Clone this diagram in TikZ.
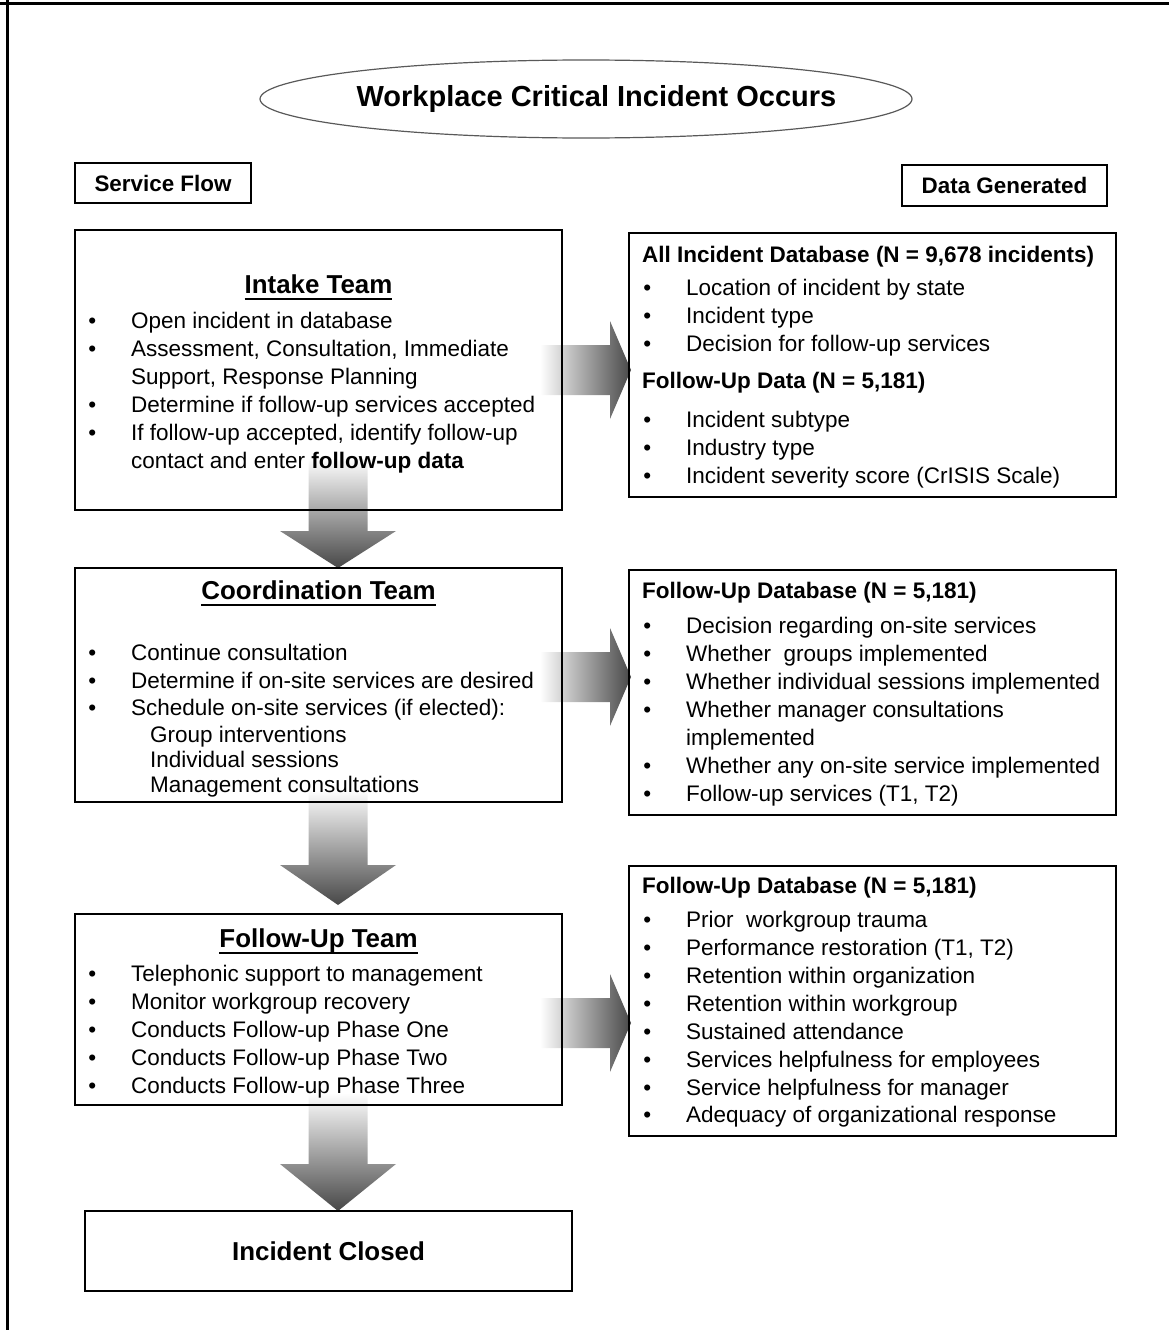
\documentclass[tikz,border=0pt]{standalone}
\usepackage{fontspec}
\setmainfont{Liberation Sans}
\usetikzlibrary{calc,shapes.geometric,backgrounds}

% bullet hung to the left of a list line
\newcommand\bul{\llap{\textbullet\hspace{35pt}}}
% bold title with a heavy underline
\newcommand\ulTitle[1]{\setbox0=\hbox{#1}\rlap{\rule[-7pt]{\wd0}{2.2pt}}\box0}

% block arrow pointing down: #1 start (top middle), #2 tip, #3 head length
\newcommand\blockdown[3]{%
  \path[downshade] let \p1=(#1), \p2=(#2) in
    (\x1-29.5pt,\y1) -- (\x1+29.5pt,\y1) -- (\x1+29.5pt,\y2+#3) --
    (\x1+58pt,\y2+#3) -- (\x2,\y2) -- (\x1-58pt,\y2+#3) --
    (\x1-29.5pt,\y2+#3) -- cycle;}
% block arrow pointing right: #1 start (left middle), #2 tip, #3 head length
\newcommand\blockright[3]{%
  \path[rightshade] let \p1=(#1), \p2=(#2) in
    (\x1,\y1+25pt) -- (\x2-#3,\y1+25pt) -- (\x2-#3,\y1+49pt) --
    (\x2,\y1) -- (\x2-#3,\y1-49pt) -- (\x2-#3,\y1-25pt) --
    (\x1,\y1-25pt) -- cycle;}

\tikzset{
  frame/.style={line width=3pt, black},
  panel/.style={draw=black, line width=1.3pt, inner sep=0pt, outer sep=0pt, anchor=north west},
  tagbox/.style={panel, font=\fontsize{22.4}{26}\selectfont\bfseries},
  closedbox/.style={panel, font=\fontsize{25.9}{30}\selectfont\bfseries},
  bodyline/.style={anchor=base west, inner sep=0pt, font=\fontsize{22.5}{28}\selectfont},
  headline/.style={anchor=base west, inner sep=0pt, font=\fontsize{22.5}{28}\selectfont\bfseries},
  teamtitle/.style={anchor=base, inner sep=0pt, font=\fontsize{25.9}{30}\selectfont\bfseries},
  downshade/.style={top color=white, bottom color=black!72},
  rightshade/.style={left color=white, right color=black!72},
}

\begin{document}
\begin{tikzpicture}[x=1pt, y=-1pt]
\useasboundingbox (0,0) rectangle (1169,1330);

% page frame (top and left rules)
\draw[frame] (0,4) -- (1169,4);
\draw[frame] (7,0) -- (7,1330);

% start event
\node[draw=black!65, line width=1.2pt, ellipse, minimum width=652pt, minimum height=78pt, inner sep=0pt] (occurs) at (586,99) {};
\node[anchor=base, inner sep=0pt, font=\fontsize{29}{32}\selectfont\bfseries] (occursText) at (596.5,106) {Workplace Critical Incident Occurs};

% column headings
\node[tagbox, minimum width=176pt, minimum height=40pt] (serviceFlow) at (75,163) {Service Flow};
\node[tagbox, minimum width=205pt, minimum height=41pt] (dataGen) at (902,165) {Data Generated};

% ---- service flow boxes ----
\node[panel, minimum width=487pt, minimum height=280pt] (intake) at (75,230) {};
\node[teamtitle] (intakeTitle) at (318.5,293) {\ulTitle{Intake Team}};
\foreach \xx/\yy/\txt [count=\k] in {
  131/328/{\bul Open incident in database},
  131/356/{\bul Assessment, Consultation, Immediate},
  131/384/{Support, Response Planning},
  131/412/{\bul Determine if follow-up services accepted},
  131/440/{\bul If follow-up accepted, identify follow-up},
  131/468/{contact and enter \textbf{follow-up data}}}
  \node[bodyline] (intake-\k) at (\xx,\yy) {\txt};

\node[panel, minimum width=487pt, minimum height=234pt] (coord) at (75,568) {};
\node[teamtitle] (coordTitle) at (318.5,599) {\ulTitle{Coordination Team}};
\foreach \xx/\yy/\txt [count=\k] in {
  131/660/{\bul Continue consultation},
  131/688/{\bul Determine if on-site services are desired},
  131/715/{\bul Schedule on-site services (if elected):},
  150/742/{Group interventions},
  150/767/{Individual sessions},
  150/792/{Management consultations}}
  \node[bodyline] (coord-\k) at (\xx,\yy) {\txt};

\node[panel, minimum width=487pt, minimum height=191pt] (fteam) at (75,914) {};
\node[teamtitle] (fteamTitle) at (318.5,947) {\ulTitle{Follow-Up Team}};
\foreach \xx/\yy/\txt [count=\k] in {
  131/981/{\bul Telephonic support to management},
  131/1009/{\bul Monitor workgroup recovery},
  131/1037/{\bul Conducts Follow-up Phase One},
  131/1065/{\bul Conducts Follow-up Phase Two},
  131/1093/{\bul Conducts Follow-up Phase Three}}
  \node[bodyline] (fteam-\k) at (\xx,\yy) {\txt};

\node[closedbox, minimum width=487pt, minimum height=80pt] (closed) at (85,1211) {Incident Closed};

% ---- data generated boxes ----
\node[panel, minimum width=487pt, minimum height=264pt] (data1) at (629,233) {};
\node[headline] (data1Head) at (642,262) {All Incident Database (N = 9,678 incidents)};
\node[headline] (data1Sub) at (642,388) {Follow-Up Data (N = 5,181)};
\foreach \xx/\yy/\txt [count=\k] in {
  686/295/{\bul Location of incident by state},
  686/323/{\bul Incident type},
  686/351/{\bul Decision for follow-up services},
  686/427/{\bul Incident subtype},
  686/455/{\bul Industry type},
  686/483/{\bul Incident severity score (CrISIS Scale)}}
  \node[bodyline] (data1-\k) at (\xx,\yy) {\txt};

\node[panel, minimum width=487pt, minimum height=245pt] (data2) at (629,570) {};
\node[headline] (data2Head) at (642,598) {Follow-Up Database (N = 5,181)};
\foreach \xx/\yy/\txt [count=\k] in {
  686/633/{\bul Decision regarding on-site services},
  686/661/{\bul Whether~ groups implemented},
  686/689/{\bul Whether individual sessions implemented},
  686/717/{\bul Whether manager consultations},
  686/745/{implemented},
  686/773/{\bul Whether any on-site service implemented},
  686/801/{\bul Follow-up services (T1, T2)}}
  \node[bodyline] (data2-\k) at (\xx,\yy) {\txt};

\node[panel, minimum width=487pt, minimum height=270pt] (data3) at (629,866) {};
\node[headline] (data3Head) at (642,893) {Follow-Up Database (N = 5,181)};
\foreach \xx/\yy/\txt [count=\k] in {
  686/927/{\bul Prior~ workgroup trauma},
  686/955/{\bul Performance restoration (T1, T2)},
  686/983/{\bul Retention within organization},
  686/1011/{\bul Retention within workgroup},
  686/1039/{\bul Sustained attendance},
  686/1067/{\bul Services helpfulness for employees},
  686/1095/{\bul Service helpfulness for manager},
  686/1122/{\bul Adequacy of organizational response}}
  \node[bodyline] (data3-\k) at (\xx,\yy) {\txt};

% ---- block arrows, under the box outlines ----
\coordinate (down1s) at (338,458);
\coordinate (down2s) at (338,790);
\coordinate (down2t) at (338,905);
\coordinate (down3s) at (338,1093);
\coordinate (right1s) at (540,370);
\coordinate (right2s) at (540,677);
\coordinate (right3s) at (540,1023);
\begin{scope}[on background layer]
  \blockdown{down1s}{down1s |- coord.north}{37pt}
  \blockdown{down2s}{down2t}{40pt}
  \blockdown{down3s}{down3s |- closed.north}{47pt}
  \blockright{right1s}{$(right1s -| data1.west)+(2,0)$}{21pt}
  \blockright{right2s}{$(right2s -| data2.west)+(2,0)$}{21pt}
  \blockright{right3s}{$(right3s -| data3.west)+(2,0)$}{21pt}
\end{scope}
\end{tikzpicture}
\end{document}
